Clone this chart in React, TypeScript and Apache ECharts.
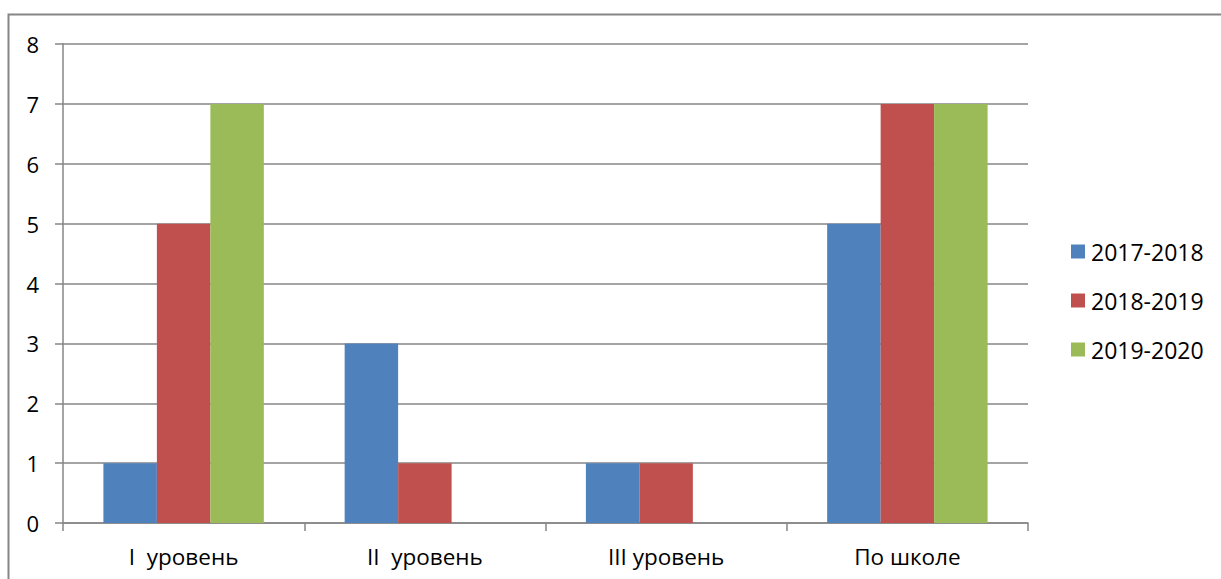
import React, { useEffect, useRef } from "react";
import * as echarts from "echarts";

const categories = ["I  уровень", "II  уровень", "III уровень", "По школе"];
const seriesNames = ["2017-2018", "2018-2019", "2019-2020"];
const values2017 = [1, 3, 1, 5];
const values2018 = [5, 1, 1, 7];
const values2019 = [7, 0, 0, 7];
const colors = ["#4F81BD", "#C0504D", "#9BBB59"];

export default function App() {
  const ref = useRef<HTMLDivElement>(null);
  useEffect(() => {
    if (!ref.current) return;
    const chart = echarts.init(ref.current, null, { renderer: "svg" });
    const font = "'Open Sans', 'Noto Sans', sans-serif";
    const gray = "#868686";
    const data = [values2017, values2018, values2019];
    chart.setOption({
      animation: false,
      backgroundColor: "#ffffff",
      graphic: [
        {
          type: "rect",
          shape: { x: 8.5, y: 14.5, width: 1400, height: 800 },
          style: { fill: "none", stroke: gray, lineWidth: 2 },
          silent: true,
          z: 100,
        },
      ],
      grid: { left: 63, top: 44, right: 193, bottom: 56, containLabel: false },
      legend: {
        orient: "vertical",
        left: 1066,
        top: 235,
        itemWidth: 14,
        itemHeight: 14,
        itemGap: 26,
        icon: "rect",
        data: seriesNames,
        textStyle: { fontFamily: font, fontSize: 23, color: "#000", padding: [0, 0, 0, 1] },
      },
      xAxis: {
        type: "category",
        data: categories,
        axisLine: { lineStyle: { color: gray, width: 1.5 } },
        axisTick: { show: true, length: 8, lineStyle: { color: gray, width: 1.5 } },
        axisLabel: { fontFamily: font, fontSize: 22.5, color: "#000", margin: 22 },
      },
      yAxis: {
        type: "value",
        min: 0,
        max: 8,
        interval: 1,
        axisLine: { show: true, lineStyle: { color: gray, width: 1.5 } },
        axisTick: { show: true, length: 8, lineStyle: { color: gray, width: 1.5 } },
        splitLine: { lineStyle: { color: gray, width: 1.5 } },
        axisLabel: { fontFamily: font, fontSize: 22, color: "#000", margin: 24 },
      },
      series: seriesNames.map((name, i) => ({
        name,
        type: "bar",
        data: data[i],
        barGap: "0%",
        barCategoryGap: "33.5%",
        itemStyle: { color: colors[i] },
      })),
    });
    return () => chart.dispose();
  }, []);
  return (
    <div
      ref={ref}
      style={{ position: "fixed", left: 0, top: 0, width: 1221, height: 579, overflow: "hidden" }}
    />
  );
}
